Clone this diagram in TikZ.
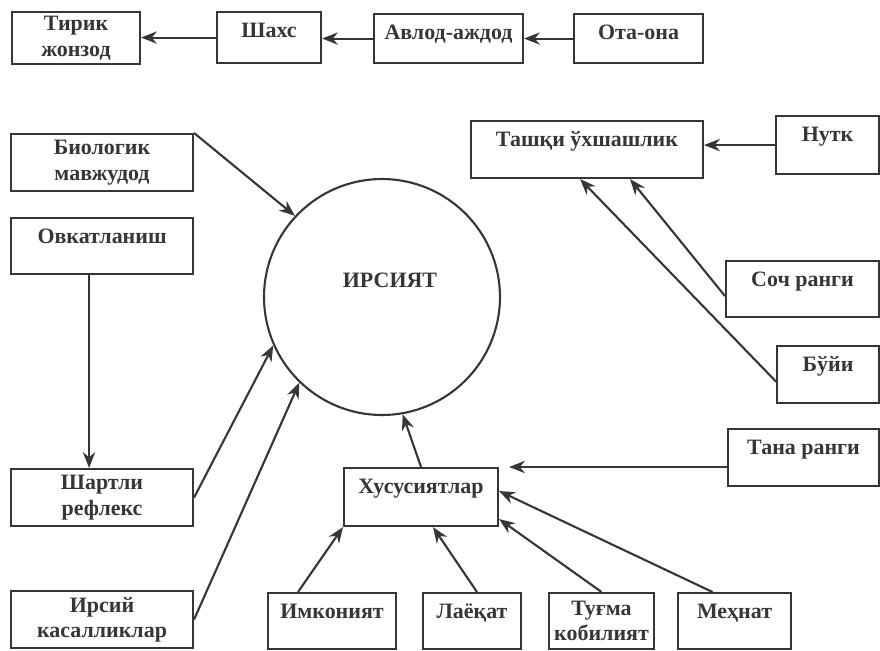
\documentclass[tikz,border=0pt]{standalone}
\usepackage{fontspec}
\setmainfont{Liberation Serif}
\usetikzlibrary{arrows.meta}
\definecolor{ink}{HTML}{363636}
\begin{document}
\begin{tikzpicture}[x=0.02cm, y=-0.02cm,
  txt/.style={text=ink, font=\fontsize{12.5}{14.5}\selectfont\bfseries},
  box/.style={txt, draw=ink, line width=1.2pt, anchor=north west, align=center, inner xsep=1pt, inner ysep=0pt},
  onel/.style={text height=0.5cm, text depth=#1},
  arr/.style={draw=ink, line width=1.2pt, -{Stealth[length=9pt, width=7pt]}}
]
\useasboundingbox (0,0) rectangle (880,650);
\node[box, minimum width=2.56cm, minimum height=1.04cm] (tirik) at (11,11) {Тирик\\жонзод};
\node[box, onel=0.52cm, minimum width=2.08cm] (shaxs) at (216,11) {Шахс};
\node[box, onel=0.48cm, minimum width=2.98cm] (avlod) at (373,13) {Авлод-аждод};
\node[box, onel=0.48cm, minimum width=2.58cm] (otaona) at (573,13) {Ота-она};

\node[box, minimum width=3.64cm, minimum height=1.14cm] (biolog) at (10,133) {Биологик\\мавжудод};
\node[box, onel=0.62cm, minimum width=3.64cm] (ovqat) at (10,217) {Овкатланиш};
\node[box, minimum width=3.64cm, minimum height=1.14cm] (shartli) at (10,468) {Шартли\\рефлекс};
\node[box, minimum width=3.64cm, minimum height=1.14cm] (irsiyk) at (10,590) {Ирсий\\касалликлар};

\node[circle, draw=ink, line width=1.2pt, minimum size=4.72cm, inner sep=0pt,
  label={[txt, xshift=0.16cm, yshift=0.34cm]center:ИРСИЯТ}] (irs) at (382,297) {};

\node[box, onel=0.64cm, minimum width=4.64cm] (tashqi) at (470,120) {Ташқи ўхшашлик};
\node[box, onel=0.66cm, minimum width=2.06cm] (nutq) at (775,115) {Нутк};
\node[box, onel=0.62cm, minimum width=3.06cm] (soch) at (725,260) {Соч ранги};
\node[box, onel=0.64cm, minimum width=2.04cm] (buyi) at (776,345) {Бўйи};
\node[box, onel=0.64cm, minimum width=3.02cm] (tana) at (727,428) {Тана ранги};
\node[box, onel=0.66cm, minimum width=3.08cm] (xus) at (343,467) {Хусусиятлар};

\node[box, onel=0.62cm, minimum width=2.56cm] (imkon) at (267,592) {Имконият};
\node[box, onel=0.62cm, minimum width=1.96cm] (layoq) at (422,592) {Лаёқат};
\node[box, minimum width=2.10cm, minimum height=1.12cm] (tugma) at (548,592) {Туғма\\кобилият};
\node[box, onel=0.62cm, minimum width=2.26cm] (mehnat) at (677,592) {Меҳнат};

\draw[arr] (otaona.west) -- (otaona.west -| avlod.east);
\draw[arr] (avlod.west) -- (avlod.west -| shaxs.east);
\draw[arr] (shaxs.west) -- (shaxs.west -| tirik.east);

\draw[arr] (biolog.north east) -- (irs.137);
\draw[arr] ([xshift=-0.26cm]ovqat.south) -- ([xshift=-0.26cm]shartli.north);
\draw[arr] (shartli.east) -- (irs.204);
\draw[arr] (irsiyk.east) -- (irs.226);
\draw[arr] (xus.north) -- (irs.280);

\draw[arr] (nutq.west) -- (nutq.west -| tashqi.east);
\draw[arr] ([yshift=-0.14cm]soch.west) -- ([xshift=-1.48cm]tashqi.south east);
\draw[arr] ([yshift=-0.14cm]buyi.west) -- ([xshift=-2.48cm]tashqi.south east);
\draw[arr] (tana.west |- xus.north) -- ([xshift=0.2cm]xus.north east);

\draw[arr] ([xshift=0.62cm]imkon.north west) -- (xus.south west);
\draw[arr] ([xshift=1.1cm]layoq.north west) -- ([xshift=0.24cm]xus.south);
\draw[arr] (tugma.north) -- ([yshift=-0.44cm]xus.east);
\draw[arr] ([xshift=-0.44cm]mehnat.north) -- ([yshift=0.12cm]xus.east);
\end{tikzpicture}
\end{document}
